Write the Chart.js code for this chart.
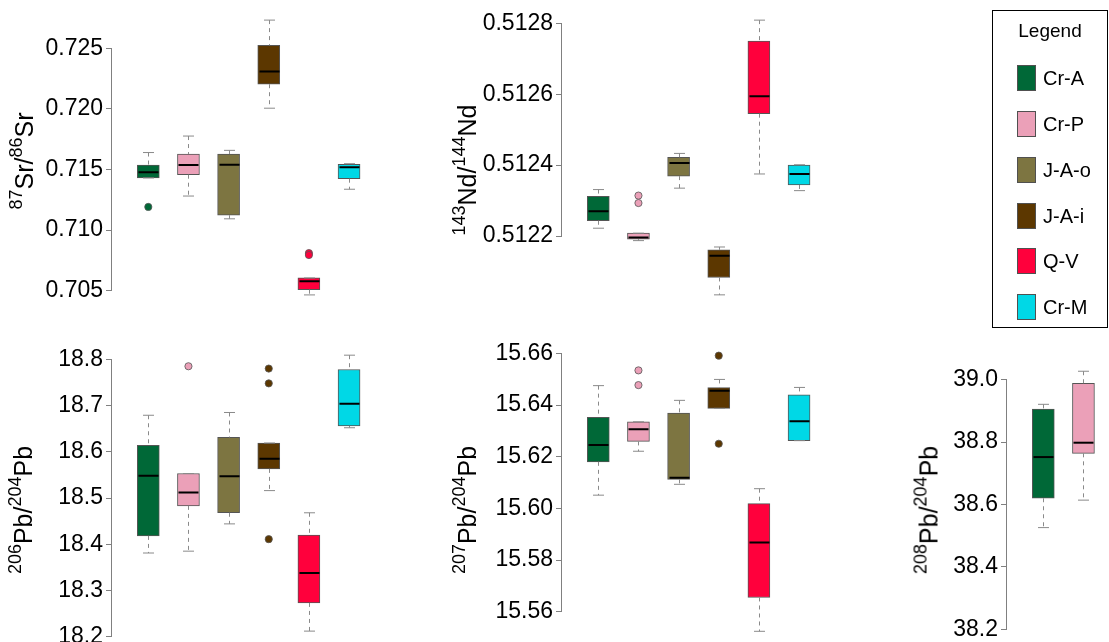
<!DOCTYPE html>
<html><head><meta charset="utf-8">
<script src="https://cdn.jsdelivr.net/npm/chart.js@4"></script>
<style>
body{margin:0;width:1109px;height:642px;position:relative;overflow:hidden;background:#fff;font-family:"Liberation Sans",Arial,Helvetica,sans-serif;}
canvas{position:absolute}
.ylab{position:absolute;transform:translate(-50%,-50%) rotate(-90deg);white-space:nowrap;font-size:25px;line-height:1;color:#000}
.ylab sup{font-size:18px;position:relative;top:-0.1em;vertical-align:super;line-height:0}
#legend{position:absolute;left:992px;top:10px;box-sizing:border-box;width:116px;height:318px;border:1px solid #000}
#legend .title{position:absolute;left:0;width:100%;top:10px;line-height:20px;text-align:center;font-size:19px}
#legend .item{position:absolute;left:24px;height:26px;line-height:26px;font-size:20px}
#legend .sw{position:absolute;left:0;top:0;width:19px;height:26px;box-sizing:border-box;border:1px solid #505050}
#legend .tx{position:absolute;left:26px;top:0;white-space:nowrap}
</style>
</head><body>
<canvas id="c1" width="385" height="322" style="left:0;top:0"></canvas>
<canvas id="c2" width="385" height="322" style="left:450px;top:0"></canvas>
<canvas id="c3" width="385" height="317" style="left:0;top:325px"></canvas>
<canvas id="c4" width="385" height="317" style="left:450px;top:325px"></canvas>
<canvas id="c5" width="214" height="317" style="left:895px;top:325px"></canvas>

<div class="ylab" style="left:24px;top:161px"><sup>87</sup>Sr/<sup>86</sup>Sr</div>
<div class="ylab" style="left:467px;top:170px"><sup>143</sup>Nd/<sup>144</sup>Nd</div>
<div class="ylab" style="left:23px;top:510px"><sup>206</sup>Pb/<sup>204</sup>Pb</div>
<div class="ylab" style="left:467px;top:510px"><sup>207</sup>Pb/<sup>204</sup>Pb</div>
<div class="ylab" style="left:929px;top:510px"><sup>208</sup>Pb/<sup>204</sup>Pb</div>

<div id="legend"><div class="title">Legend</div></div>

<script>
// ---- data ----
const groups = ['Cr-A', 'Cr-P', 'J-A-o', 'J-A-i', 'Q-V', 'Cr-M'];
const colors = ['#006837', '#EBA0B8', '#7D7541', '#5C3700', '#FF003C', '#00D8E6'];

// each entry: [lower whisker, Q1, median, Q3, upper whisker]
const srStats = [
  [0.71430, 0.71430, 0.71477, 0.71537, 0.71640],
  [0.71281, 0.71457, 0.71537, 0.71628, 0.71776],
  [0.71093, 0.71123, 0.71540, 0.71628, 0.71658],
  [0.72006, 0.72204, 0.72308, 0.72525, 0.72733],
  [0.70465, 0.70508, 0.70577, 0.70605, 0.70605],
  [0.71337, 0.71424, 0.71518, 0.71543, 0.71548]
];
const srOutliers = [[0.71191], [], [], [], [0.70810, 0.70794], []];
const srTicks = [0.705, 0.710, 0.715, 0.720, 0.725];

const ndStats = [
  [0.512222, 0.512243, 0.512270, 0.512312, 0.512331],
  [0.512187, 0.512191, 0.512196, 0.512208, 0.512208],
  [0.512335, 0.512369, 0.512406, 0.512422, 0.512433],
  [0.512034, 0.512083, 0.512144, 0.512161, 0.512169],
  [0.512375, 0.512545, 0.512594, 0.512750, 0.512809],
  [0.512328, 0.512344, 0.512375, 0.512400, 0.512401]
];
const ndOutliers = [[], [0.512314, 0.512293], [], [], [], []];
const ndTicks = [0.5122, 0.5124, 0.5126, 0.5128];

const pb206Stats = [
  [18.381, 18.418, 18.548, 18.614, 18.679],
  [18.385, 18.483, 18.512, 18.553, 18.553],
  [18.444, 18.468, 18.547, 18.631, 18.685],
  [18.516, 18.563, 18.585, 18.619, 18.619],
  [18.212, 18.273, 18.338, 18.420, 18.468],
  [18.652, 18.656, 18.704, 18.778, 18.809]
];
const pb206Outliers = [[], [18.785], [], [18.780, 18.748, 18.411], [], []];
const pb206Ticks = [18.2, 18.3, 18.4, 18.5, 18.6, 18.7, 18.8];

const pb207Stats = [
  [15.6051, 15.6180, 15.6245, 15.6352, 15.6475],
  [15.6221, 15.6259, 15.6306, 15.6335, 15.6335],
  [15.6093, 15.6112, 15.6118, 15.6369, 15.6418],
  [15.6387, 15.6387, 15.6455, 15.6467, 15.6499],
  [15.5524, 15.5655, 15.5868, 15.6018, 15.6076],
  [15.6262, 15.6262, 15.6337, 15.6439, 15.6468]
];
const pb207Outliers = [[], [15.6534, 15.6477], [], [15.6591, 15.6250], [], []];
const pb207Ticks = [15.56, 15.58, 15.60, 15.62, 15.64, 15.66];

const pb208Stats = [
  [38.526, 38.620, 38.752, 38.906, 38.921],
  [38.614, 38.764, 38.798, 38.988, 39.027]
];
const pb208Outliers = [[], []];
const pb208Ticks = [38.2, 38.4, 38.6, 38.8, 39.0];

// ---- legend (HTML) ----
const legendTops = [65, 111, 157, 203, 248, 294];
const leg = document.getElementById('legend');
groups.forEach((g, i) => {
  const it = document.createElement('div');
  it.className = 'item';
  it.style.top = (legendTops[i] - 11) + 'px';
  it.innerHTML = '<div class="sw" style="background:' + colors[i] + '"></div><div class="tx">' + g + '</div>';
  leg.appendChild(it);
});

// ---- chart helpers ----
Chart.defaults.font.family = '"Liberation Sans", Arial, Helvetica, sans-serif';

const boxParts = {
  id: 'boxParts',
  beforeDatasetsDraw(chart, args, opts) {
    const {ctx, chartArea} = chart;
    const y = chart.scales.y;
    const t = opts.ticks;
    const x0 = Math.round(chartArea.left) - 0.5;
    ctx.save();
    ctx.strokeStyle = '#808080';
    ctx.lineWidth = 1;
    ctx.beginPath();
    ctx.moveTo(x0, y.getPixelForValue(t[0]));
    ctx.lineTo(x0, y.getPixelForValue(t[t.length - 1]));
    ctx.stroke();
    ctx.restore();
  },
  afterDatasetsDraw(chart, args, opts) {
    const {ctx} = chart;
    const x = chart.scales.x, y = chart.scales.y;
    const half = 11, cap = 5.5;
    ctx.save();
    ctx.beginPath();
    ctx.rect(chart.chartArea.left, chart.chartArea.top, chart.chartArea.width, chart.chartArea.height);
    ctx.clip();
    opts.stats.forEach((s, i) => {
      const px = Math.round(x.getPixelForValue(i + 1)) + 0.5;
      const lo = y.getPixelForValue(s[0]), q1 = y.getPixelForValue(s[1]),
            med = y.getPixelForValue(s[2]), q3 = y.getPixelForValue(s[3]),
            hi = y.getPixelForValue(s[4]);
      ctx.strokeStyle = '#8a8a8a';
      ctx.lineWidth = 1;
      ctx.setLineDash([4, 4]);
      ctx.beginPath();
      if (q3 - hi > 1) { ctx.moveTo(px, hi); ctx.lineTo(px, q3); }
      if (lo - q1 > 1) { ctx.moveTo(px, q1); ctx.lineTo(px, lo); }
      ctx.stroke();
      ctx.setLineDash([]);
      ctx.beginPath();
      ctx.moveTo(px - cap, hi); ctx.lineTo(px + cap, hi);
      ctx.moveTo(px - cap, lo); ctx.lineTo(px + cap, lo);
      ctx.stroke();
      ctx.strokeStyle = '#000';
      ctx.lineWidth = 2;
      ctx.beginPath();
      ctx.moveTo(px - half + 1, med); ctx.lineTo(px + half - 1, med);
      ctx.stroke();
    });
    ctx.restore();
  }
};

// value at canvas-top (vTop) and canvas-bottom (vBot); first box centre at canvas x = 148.3, spacing 40.15 px
function makePanel(id, stats, outliers, ticks, decimals, vTop, vBot) {
  const canvas = document.getElementById(id);
  const H = canvas.height, W = canvas.width;
  const yAt = p => vTop + (p / H) * (vBot - vTop);
  const xAt = p => 1 + (p - 148.3) / 40.15;
  const boxData = stats.map((s, i) => ({x: i + 1, y: [s[1], s[3]]}));
  const outData = [], outFill = [];
  outliers.forEach((arr, i) => arr.forEach(v => { outData.push({x: i + 1, y: v}); outFill.push(colors[i]); }));
  const chart = new Chart(canvas, {
    type: 'bar',
    data: {
      datasets: [
        {
          type: 'bar', data: boxData,
          backgroundColor: colors.slice(0, stats.length),
          borderColor: '#555555', borderWidth: 1, borderSkipped: false,
          barThickness: 22, grouped: false
        },
        {
          type: 'scatter', data: outData,
          pointBackgroundColor: outFill, pointBorderColor: '#555555',
          pointBorderWidth: 0.8, pointRadius: 3.6, showLine: false
        }
      ]
    },
    options: {
      responsive: false, animation: false, devicePixelRatio: 1,
      layout: {padding: 0},
      plugins: {
        legend: {display: false}, tooltip: {enabled: false},
        boxParts: {stats: stats, ticks: ticks}
      },
      scales: {
        x: {type: 'linear', display: false, min: xAt(112), max: xAt(W), offset: false},
        y: {
          type: 'linear', min: vBot, max: vTop,
          border: {display: false},
          grid: {drawOnChartArea: false, drawTicks: true, tickLength: 6, color: '#808080', lineWidth: 1},
          ticks: {color: '#000', font: {size: 23}, padding: 3, autoSkip: false,
                  callback: v => Number(v).toFixed(decimals)},
          afterBuildTicks: sc => { sc.ticks = ticks.map(v => ({value: v})); },
          afterFit: sc => { sc.width = 112; sc.paddingTop = 0; sc.paddingBottom = 0; }
        }
      }
    },
    plugins: [boxParts]
  });
  // make the scales match the intended pixel mapping over the actual chart area
  const ca = chart.chartArea;
  chart.options.scales.y.max = yAt(ca.top);
  chart.options.scales.y.min = yAt(ca.bottom);
  chart.options.scales.x.min = xAt(ca.left);
  chart.options.scales.x.max = xAt(ca.right);
  chart.update('none');
}

makePanel('c1', srStats, srOutliers, srTicks, 3, 0.728989, 0.702414);
makePanel('c2', ndStats, ndOutliers, ndTicks, 4, 0.5128658, 0.5119574);
makePanel('c3', pb206Stats, pb206Outliers, pb206Ticks, 1, 18.87428, 18.18847);
makePanel('c4', pb207Stats, pb207Outliers, pb207Ticks, 2, 15.670968, 15.548259);
makePanel('c5', pb208Stats, pb208Outliers, pb208Ticks, 1, 39.17518, 38.15941);
</script>
</body></html>
